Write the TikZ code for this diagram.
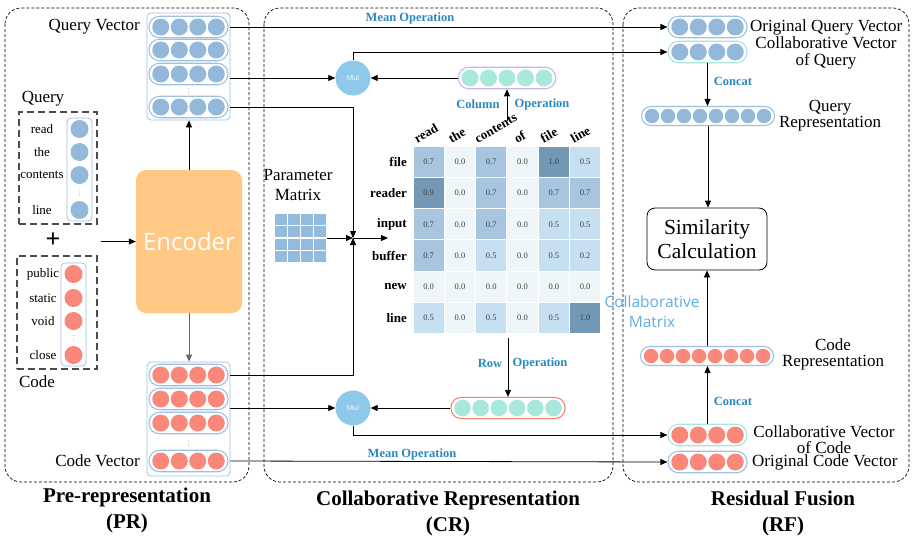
\documentclass[tikz,border=0pt]{standalone}
\usepackage{fontspec}
\setmainfont{Liberation Serif}
\setsansfont{Open Sans}
\usetikzlibrary{arrows.meta,positioning}

\definecolor{qblue}{HTML}{93B8D9}
\definecolor{rimblue}{HTML}{9BC2E4}
\definecolor{cred}{HTML}{F9877A}
\definecolor{ccyan}{HTML}{A9E8DD}
\definecolor{cyanrim}{HTML}{A8E6DC}
\definecolor{lav}{HTML}{C8B6EA}
\definecolor{salm}{HTML}{F4806E}
\definecolor{mulblue}{HTML}{8FC9EA}
\definecolor{encorange}{HTML}{FFC884}
\definecolor{opblue}{HTML}{2B87BF}
\definecolor{cmtext}{HTML}{5AAFE3}
\definecolor{pgrid}{HTML}{93BBDD}
\definecolor{m0}{HTML}{EEF6FA}
\definecolor{m5}{HTML}{C6E0F2}
\definecolor{m7}{HTML}{A7C5DE}
\definecolor{m9}{HTML}{7298B5}

% a row of dots inside a pill: name, x, y, count, pitch, dot colour, rim colour
\newcommand{\vecrow}[7]{%
  \pgfmathsetmacro\rimr{(#5+3)/2-0.2}%
  \node[pill=#7, rounded corners=\rimr pt, minimum width={#4*#5+5}, minimum height={#5+3}] (#1) at (#2,#3) {};
  \foreach \k in {1,...,#4}
    \node[dot=#6, minimum size={#5-1.5}] (#1-\k) at ({#2+(\k-(#4+1)/2)*#5},#3) {};
}

\begin{document}
\begin{tikzpicture}[x=1pt, y=-1pt,
  panel/.style={draw, dash pattern=on 3pt off 2pt, rounded corners=16pt, line width=0.7pt},
  title/.style={font=\fontsize{21}{26}\selectfont\bfseries, align=center},
  lab/.style={font=\fontsize{17}{16.5}\selectfont, inner sep=1pt},
  word/.style={font=\fontsize{13}{13}\selectfont, inner sep=1pt},
  oplab/.style={font=\fontsize{12.5}{12.5}\selectfont\bfseries, text=opblue, inner sep=1pt},
  inbox/.style={draw=black!70, dash pattern=on 7pt off 4pt, line width=1.1pt},
  block/.style={draw=#1, rounded corners=4pt, line width=0.8pt},
  pill/.style={draw=#1, line width=1.1pt, inner sep=0pt},
  dot/.style={circle, fill=#1, inner sep=0pt},
  vdots/.style={inner sep=0pt, text=black!60},
  mul/.style={circle, fill=mulblue, minimum size=35, inner sep=0pt, text=white, font=\sffamily\fontsize{7}{7}\selectfont},
  cell/.style={fill=#1, draw=white, line width=1pt, minimum size=31.3, inner sep=0pt, font=\fontsize{8.5}{8.5}\selectfont, text=black!75},
  rowlab/.style={font=\fontsize{13}{13}\selectfont\bfseries, anchor=east, inner sep=1pt},
  collab/.style={font=\fontsize{13}{13}\selectfont\bfseries, anchor=south west, rotate=30, inner sep=1pt},
  arr/.style={-{Triangle[length=7pt,width=6pt]}, line width=0.8pt}
]
\useasboundingbox (0,0) rectangle (912,538);

% the three stages
\draw[panel] (5,8) rectangle (249,482);
\draw[panel] (264,8) rectangle (613,482);
\draw[panel] (623,8) rectangle (909,482);
\node[title] (prt) at (127,510) {Pre-representation\\(PR)};
\node[title] (crt) at (448,513) {Collaborative Representation\\(CR)};
\node[title] (rft) at (783,513) {Residual Fusion\\(RF)};

% inputs
\node[lab] (qlab) at (43,99) {Query};
\node[inbox, minimum width=78, minimum height=112] (qbox) at (58,168) {};
\node[block=rimblue, minimum width=25, minimum height=103] (qcol) at (79.5,169.5) {};
\foreach \w/\y [count=\i] in {read/129, the/152, contents/175, line/210} {
  \node[word] (qw\i) at (42,\y) {\w};
  \node[dot=qblue, minimum size=18] (qd\i) at (79.5,\y) {};
}
\node[vdots] (qdots) at (79.5,192) {\scalebox{0.6}{$\vdots$}};

\node[font=\fontsize{26}{26}\selectfont\bfseries] (plus) at (53,240) {+};

\node[inbox, minimum width=80, minimum height=113] (cbox) at (57,312.5) {};
\node[block=rimblue, minimum width=25, minimum height=103] (ccol) at (73.5,314.5) {};
\foreach \w/\y [count=\i] in {public/274, static/298, void/321, close/355} {
  \node[word] (cw\i) at (43,\y) {\w};
  \node[dot=cred, minimum size=18] (cd\i) at (73.5,\y) {};
}
\node[vdots] (cdots) at (73.5,337) {\scalebox{0.6}{$\vdots$}};
\node[lab] (clab) at (37,382) {Code};

% encoder
\node[fill=encorange, rounded corners=10pt, minimum width=106, minimum height=143,
      text=white, font=\sffamily\fontsize{24}{24}\selectfont] (enc) at (189,241.5) {Encoder};
\draw[arr] ([xshift=3pt]qbox.east |- enc.west) -- (enc.west);

% query / code vectors
\node[block=rimblue, minimum width=83, minimum height=107] (qv) at (188.5,66.5) {};
\vecrow{qv1}{188.5}{27}{4}{18.5}{qblue}{rimblue}
\vecrow{qv2}{188.5}{50}{4}{18.5}{qblue}{rimblue}
\vecrow{qv3}{188.5}{74}{4}{18.5}{qblue}{rimblue}
\vecrow{qv4}{188.5}{107}{4}{18.5}{qblue}{rimblue}
\node[vdots] (qvdots) at (188.5,90) {\scalebox{0.6}{$\vdots$}};
\node[lab, anchor=east] (qvlab) at (141,27) {Query Vector};

\node[block=rimblue, minimum width=83, minimum height=114] (cv) at (188.5,419) {};
\vecrow{cv1}{188.5}{375}{4}{18.5}{cred}{rimblue}
\vecrow{cv2}{188.5}{399}{4}{18.5}{cred}{rimblue}
\vecrow{cv3}{188.5}{423}{4}{18.5}{cred}{rimblue}
\vecrow{cv4}{188.5}{461}{4}{18.5}{cred}{rimblue}
\node[vdots] (cvdots) at (188.5,442) {\scalebox{0.6}{$\vdots$}};
\node[lab, anchor=east] (cvlab) at (141,461) {Code Vector};

\draw[arr] (enc.north) -- (enc.north |- qv.south);
\draw[arr, draw=black!60, fill=black!60] (enc.south) -- (enc.south |- cv.north);

% collaborative matrix
\foreach \w/\dx [count=\c] in {read/4, the/7, contents/2, of/10, file/5, line/4}
  \node[collab] (cl\c) at ({413+(\c-1)*31.3+\dx},145) {\w};
\foreach \w/\y [count=\r] in {file/161.65, reader/192.95, input/224.25, buffer/255.55, new/286.85, line/318.15}
  \node[rowlab] (rl\r) at (408,\y) {\w};
\foreach \v/\cl [count=\c] in {0.7/m7, 0.0/m0, 0.7/m7, 0.0/m0, 1.0/m9, 0.5/m5}
  \node[cell=\cl] (ma\c) at ({413+(\c-0.5)*31.3},161.65) {\v};
\foreach \v/\cl [count=\c] in {0.9/m9, 0.0/m0, 0.7/m7, 0.0/m0, 0.7/m7, 0.7/m7}
  \node[cell=\cl] (mb\c) at ({413+(\c-0.5)*31.3},192.95) {\v};
\foreach \v/\cl [count=\c] in {0.7/m7, 0.0/m0, 0.7/m7, 0.0/m0, 0.5/m5, 0.5/m5}
  \node[cell=\cl] (mc\c) at ({413+(\c-0.5)*31.3},224.25) {\v};
\foreach \v/\cl [count=\c] in {0.7/m7, 0.0/m0, 0.5/m5, 0.0/m0, 0.5/m5, 0.2/m5}
  \node[cell=\cl] (md\c) at ({413+(\c-0.5)*31.3},255.55) {\v};
\foreach \v/\cl [count=\c] in {0.0/m0, 0.0/m0, 0.0/m0, 0.0/m0, 0.0/m0, 0.0/m0}
  \node[cell=\cl] (me\c) at ({413+(\c-0.5)*31.3},286.85) {\v};
\foreach \v/\cl [count=\c] in {0.5/m5, 0.0/m0, 0.5/m5, 0.0/m0, 0.5/m5, 1.0/m9}
  \node[cell=\cl] (mf\c) at ({413+(\c-0.5)*31.3},318.15) {\v};
\node[align=center, text=cmtext, font=\sffamily\fontsize{15.5}{20}\selectfont] (cmlab) at (652,312) {Collaborative\\Matrix};

% parameter matrix
\node[lab, align=center, font=\fontsize{17}{20}\selectfont] (pmlab) at (298,185) {Parameter\\Matrix};
\node[minimum width=53, minimum height=50, inner sep=0pt] (pm) at (300.5,238) {};
\foreach \i in {0,...,3}
  \foreach \j in {0,...,3}
    \fill[pgrid] ({274+\i*13.25+0.6},{213+\j*12.5+0.6}) rectangle ++(12,11.3);

% column / row operations
\node[mul] (mulq) at (353,78) {Mul};
\node[mul] (mulc) at (353,408) {Mul};
\vecrow{colop}{507}{78}{5}{18.5}{ccyan}{lav}
\vecrow{rowop}{508}{408}{6}{18.2}{ccyan}{salm}
\coordinate (ctop) at (507,121);
\coordinate (mbot) at (508,338);
\coordinate (jn) at (353,238);
\coordinate (jout) at (388,238);
\node[oplab] (colw) at (478,104) {Column};
\node[oplab] (colo) at (542,104) {Operation};
\node[oplab] (roww) at (490,363) {Row};
\node[oplab] (rowo) at (540,363) {Operation};
\node[oplab] (meanq) at (410,18) {Mean Operation};
\node[oplab] (meanc) at (412,454) {Mean Operation};

% residual fusion
\vecrow{oqv}{707.5}{27}{4}{18.5}{qblue}{rimblue}
\vecrow{cvq}{707.5}{52}{4}{18.5}{qblue}{cyanrim}
\vecrow{qrep}{708}{116}{8}{16}{qblue}{rimblue}
\node[draw, rounded corners=8pt, line width=0.8pt, minimum width=120, minimum height=62,
      align=center, font=\fontsize{21.5}{24}\selectfont] (sim) at (707,239) {Similarity\\Calculation};
\vecrow{crep}{707}{356}{8}{16}{cred}{rimblue}
\vecrow{cvc}{707.5}{435}{4}{18.5}{cred}{cyanrim}
\vecrow{ocv}{707.5}{462}{4}{18.5}{cred}{rimblue}
\node[lab, anchor=west] (oqvlab) at (749,27) {Original Query Vector};
\node[lab, align=center] (cvqlab) at (826,53) {Collaborative Vector\\of Query};
\node[lab, align=center] (qreplab) at (830,115.5) {Query\\Representation};
\node[lab, align=center] (creplab) at (833,354.5) {Code\\Representation};
\node[lab, align=center] (cvclab) at (824,439.5) {Collaborative Vector\\of Code};
\node[lab, anchor=west] (ocvlab) at (751,462) {Original Code Vector};
\node[oplab] (catq) at (733,81) {Concat};
\node[oplab] (catc) at (733,401) {Concat};

% connectors
\draw[arr] (qv.east |- qv1) -- (oqv.west);
\draw[arr] (qv.east |- mulq) -- (mulq.west);
\draw[arr] (qv.east |- qv4) -| (jn);
\draw[arr] (cv.east |- cv1) -| (jn);
\draw[arr] (pm.east) -- (jn);
\draw[arr] (jn) -- (jout);
\draw[arr] (cv.east |- mulc) -- (mulc.west);
\draw[arr] (cv.east |- cv4) -- (ocv.west);
\draw[arr] (ctop) -- (colop.south);
\draw[arr] (colop.west) -- (mulq.east);
\draw[arr] (mulq.north) |- (cvq.west);
\draw[arr] (mbot) -- (rowop.north);
\draw[arr] (rowop.west) -- (mulc.east);
\draw[arr] (mulc.south) |- (cvc.west);
\draw[arr] (cvq.south) -- (cvq.south |- qrep.north);
\draw[arr] (qrep.south) -- (qrep.south |- sim.north);
\draw[arr] (crep.north) -- (crep.north |- sim.south);
\draw[arr] (cvc.north) -- (cvc.north |- crep.south);
\end{tikzpicture}
\end{document}
